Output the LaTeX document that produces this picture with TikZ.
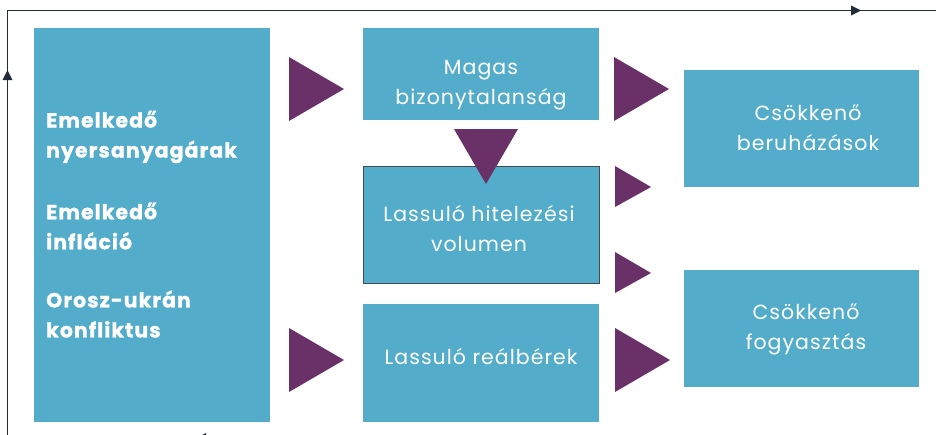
\documentclass[tikz,border=0pt]{standalone}
\usepackage{fontspec}
\setmainfont{Poppins}
\usetikzlibrary{arrows.meta}
\definecolor{boxblue}{HTML}{52ACCA}
\definecolor{tri}{HTML}{6A3169}
\definecolor{frame}{HTML}{222C38}
\tikzset{
  bluebox/.style={fill=boxblue, draw=none},
  label/.style={text=white, font=\fontsize{20.5}{30}\selectfont\addfontfeature{LetterSpace=5}, align=center, inner sep=0pt},
  boldlabel/.style={text=white, font=\fontsize{20.5}{30}\selectfont\bfseries\addfontfeature{LetterSpace=5,FakeBold=1}, align=left, inner sep=0pt, anchor=west},
  trifill/.style={fill=tri, draw=none},
  frameline/.style={draw=frame, line width=1.5pt}
}
\begin{document}
\begin{tikzpicture}[x=1pt,y=-1pt]
\useasboundingbox (0,0) rectangle (936,434);
% frame
\draw[frameline] (7.5,445) -- (7.5,10.5) -- (940,10.5);
\draw[frameline] (940,438) -- (7.5,438);
\fill[frame] (861,10.5) -- (851,5.5) -- (851,15.5) -- cycle;
\fill[frame] (7.5,70) -- (2.5,80) -- (12.5,80) -- cycle;
\fill[frame] (196,438) -- (206,433) -- (206,443) -- cycle;
% boxes
\node[bluebox, minimum width=236pt, minimum height=394pt, anchor=north west] (causes) at (34,28) {};
\node[bluebox, minimum width=236pt, minimum height=92pt, anchor=north west] (magas) at (363,28) {};
\node[bluebox, draw=frame!85, line width=1.2pt, minimum width=236pt, minimum height=117pt, anchor=north west] (hitel) at (363,166) {};
\node[bluebox, minimum width=236pt, minimum height=118pt, anchor=north west] (ber) at (363,304) {};
\node[bluebox, minimum width=235pt, minimum height=117pt, anchor=north west] (beru) at (684,70) {};
\node[bluebox, minimum width=235pt, minimum height=117pt, anchor=north west] (fogy) at (684,270) {};
% left texts
\node[boldlabel] (t1) at (46,137) {Emelkedő\\nyersanyagárak};
\node[boldlabel] (t2) at (46,226) {Emelkedő\\infláció};
\node[boldlabel] (t3) at (46,314) {Orosz-ukrán\\konfliktus};
% box texts
\node[label] (l1) at (481,85) {Magas\\bizonytalanság};
\node[label] (l2) at (479,228) {Lassuló hitelezési\\volumen};
\node[label] (l3) at (481,356) {Lassuló reálbérek};
\node[label] (l4) at (808,128) {Csökkenő\\beruházások};
\node[label] (l5) at (806,329) {Csökkenő\\fogyasztás};
% triangles
\path[trifill] (289,57) -- (344,89) -- (289,121) -- cycle;
\path[trifill] (289,328) -- (344,360) -- (289,392) -- cycle;
\path[trifill] (614,57) -- (669,89) -- (614,121) -- cycle;
\path[trifill] (615,328) -- (670,360) -- (615,392) -- cycle;
\path[trifill] (615,166) -- (651,187) -- (615,207) -- cycle;
\path[trifill] (615,252) -- (651,273) -- (615,293) -- cycle;
\path[trifill] (454,129) -- (518,129) -- (486,184) -- cycle;
\end{tikzpicture}
\end{document}
